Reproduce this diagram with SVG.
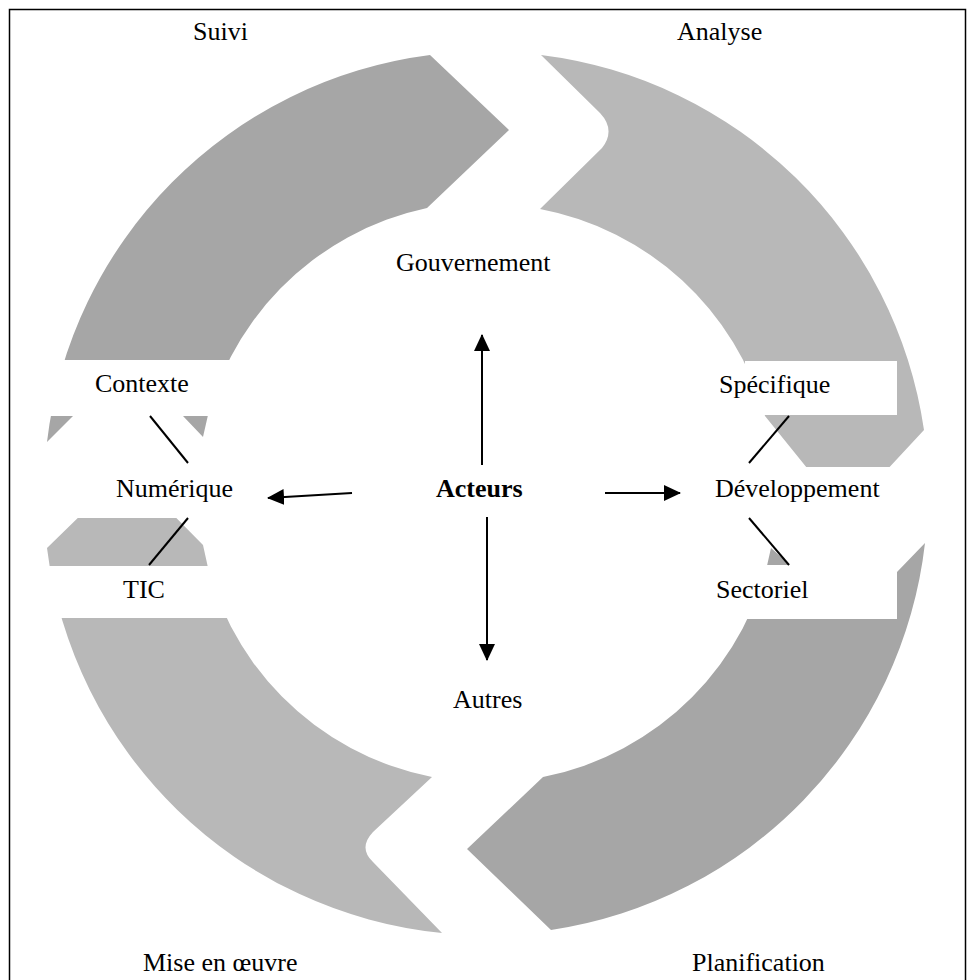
<svg xmlns="http://www.w3.org/2000/svg" width="974" height="980" viewBox="0 0 974 980">
<style>
.t{font-family:"Liberation Serif","Times New Roman",serif;font-size:26px;fill:#000}
.b{font-weight:bold}
.dk{fill:#a6a6a6}
.lt{fill:#b8b8b8}
.mask{fill:#ffffff}
.ln{stroke:#000;stroke-width:2;fill:none}
.ar{stroke:#000;stroke-width:2;fill:none;marker-end:url(#ah)}
</style>
<defs>
<marker id="ah" markerWidth="18" markerHeight="16" refX="16" refY="8" orient="auto" markerUnits="userSpaceOnUse">
<path d="M0,0 L17,8 L0,16 Z" fill="#000"/>
</marker>
</defs>
<rect x="0" y="0" width="974" height="980" fill="#fff"/>
<rect x="9.5" y="9.5" width="956" height="1000" fill="none" stroke="#000" stroke-width="1.5"/>

<g id="suivi">
<path class="dk" d="M47,442 A442,442 0 0 1 430,55 L509,130 L427,208 A289,289 0 0 0 203,437 L183,416 L128,390 L73,416 Z"/>
<text class="t" x="193" y="40">Suivi</text>
</g>
<g id="analyse">
<path class="lt" d="M541,55 A442,442 0 0 1 924,430 L845,515 L765,416 A289,289 0 0 0 540,209 L602,148 Q616,130 600,113 Z"/>
<text class="t" x="677" y="40">Analyse</text>
</g>
<g id="planification">
<path class="dk" d="M925,543 A442,442 0 0 1 551,930 L467,849 L543,777 A289,289 0 0 0 771,548 L790,565 L848,600 L897,572 Z"/>
<text class="t" x="692" y="971">Planification</text>
</g>
<g id="mise-en-oeuvre">
<path class="lt" d="M442,933 L373,862 Q358,848 373,832 L432,777 A289,289 0 0 1 203,545 L128,469 L47,548 A442,442 0 0 0 442,933 Z"/>
<text class="t" x="143" y="971">Mise en œuvre</text>
</g>

<g id="masks">
<rect class="mask" x="40" y="360" width="200" height="56"/>
<rect class="mask" x="40" y="444" width="200" height="74"/>
<rect class="mask" x="40" y="566" width="200" height="52"/>
<rect class="mask" x="745" y="361" width="152" height="54"/>
<rect class="mask" x="700" y="467" width="235" height="73"/>
<rect class="mask" x="743" y="565" width="154" height="54"/>
</g>

<g id="contexte"><text class="t" x="95" y="392">Contexte</text></g>
<g id="numerique"><text class="t" x="116" y="497">Numérique</text></g>
<g id="tic"><text class="t" x="123" y="598">TIC</text></g>
<g id="specifique"><text class="t" x="719" y="393">Spécifique</text></g>
<g id="developpement"><text class="t" x="715" y="497">Développement</text></g>
<g id="sectoriel"><text class="t" x="716" y="598">Sectoriel</text></g>
<g id="gouvernement"><text class="t" x="396" y="271">Gouvernement</text></g>
<g id="acteurs"><text class="t b" x="436" y="497">Acteurs</text></g>
<g id="autres"><text class="t" x="453" y="708">Autres</text></g>

<g id="connectors">
<line class="ln" x1="150" y1="416" x2="188" y2="463"/>
<line class="ln" x1="188" y1="518" x2="149" y2="565"/>
<line class="ln" x1="789" y1="416" x2="749" y2="463"/>
<line class="ln" x1="749" y1="518" x2="789" y2="565"/>
<line class="ar" x1="482" y1="465" x2="482" y2="335"/>
<line class="ar" x1="487" y1="517" x2="487" y2="660"/>
<line class="ar" x1="352" y1="493" x2="268" y2="498"/>
<line class="ar" x1="605" y1="493" x2="680" y2="493"/>
</g>
</svg>
